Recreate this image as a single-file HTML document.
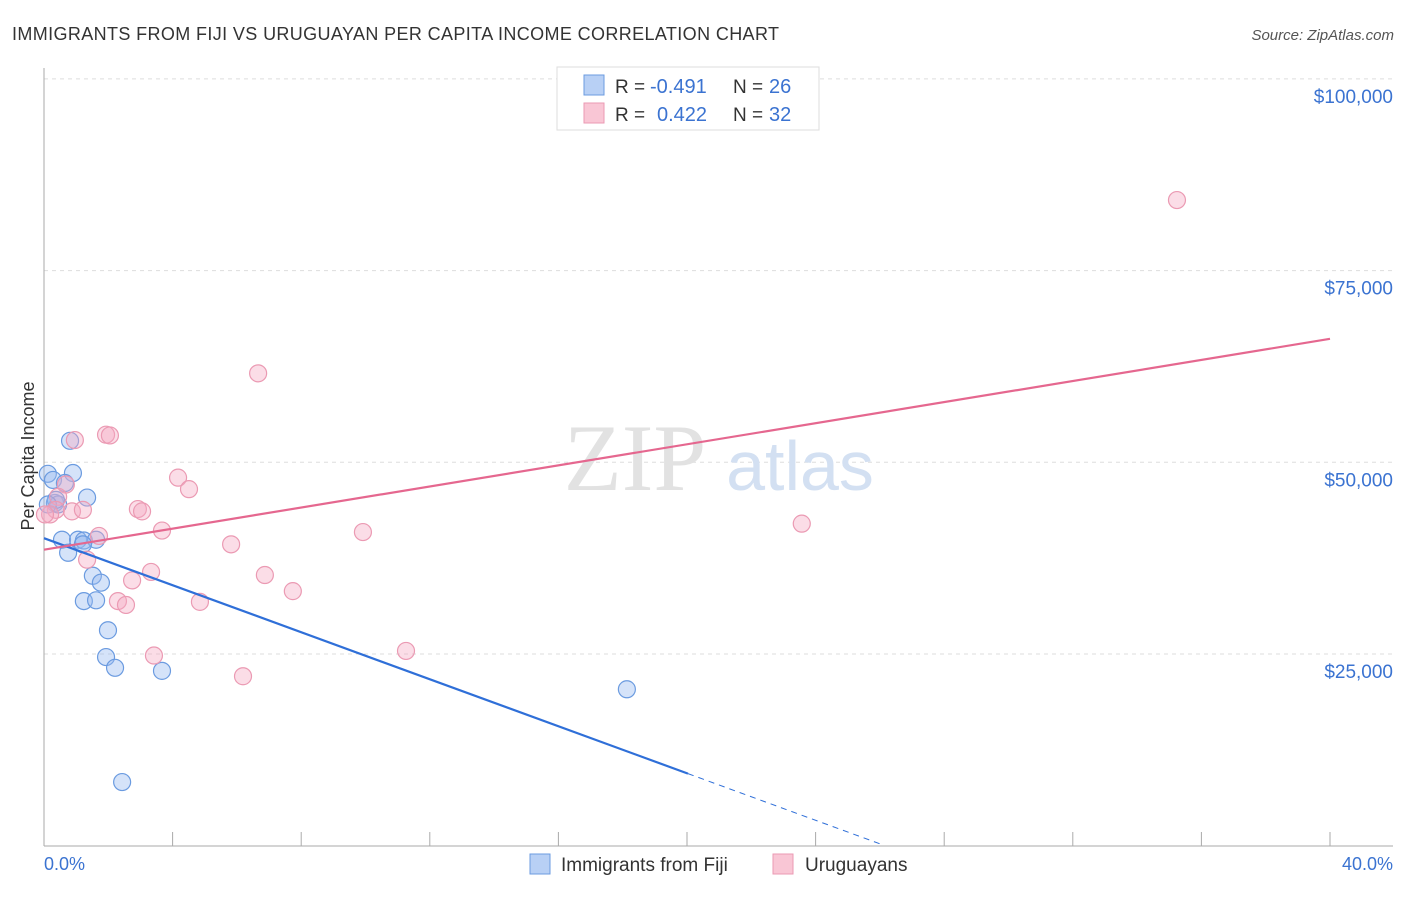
<!DOCTYPE html>
<html><head><meta charset="utf-8"><style>
body{margin:0;background:#fff;font-family:"Liberation Sans",sans-serif}
</style></head><body>
<svg width="1406" height="892" xmlns="http://www.w3.org/2000/svg" font-family="Liberation Sans, sans-serif">
<text x="12" y="40" font-size="18" fill="#333" textLength="767">IMMIGRANTS FROM FIJI VS URUGUAYAN PER CAPITA INCOME CORRELATION CHART</text>
<text x="1394" y="40" font-size="15" fill="#555" text-anchor="end" font-style="italic">Source: ZipAtlas.com</text>
<g id="grid"></g>
<text x="635" y="490" font-size="95" fill="#e2e2e2" text-anchor="middle" font-family="Liberation Serif, serif">ZIP</text>
<text x="800" y="490" font-size="70" fill="#d3e0f2" text-anchor="middle">atlas</text>
<line x1="44" y1="68" x2="44" y2="846" stroke="#aaa"/>
<line x1="44" y1="846" x2="1393" y2="846" stroke="#aaa"/>
<text transform="translate(34,456) rotate(-90)" font-size="18" fill="#333" text-anchor="middle">Per Capita Income</text>
<text x="44" y="870" font-size="18" fill="#3b73d1">0.0%</text>
<text x="1393" y="870" font-size="18" fill="#3b73d1" text-anchor="end">40.0%</text>
<g id="marks"></g>
<g>
<rect x="557" y="67" width="262" height="63" fill="#fff" stroke="#ddd"/>
<rect x="584" y="75" width="20" height="20" fill="#b8d0f5" stroke="#6b9be0"/>
<rect x="584" y="103" width="20" height="20" fill="#f9c6d5" stroke="#eb9ab3"/>
<text x="615" y="93" font-size="19" fill="#333">R =</text>
<text x="650" y="93" font-size="20" fill="#3b73d1">-0.491</text>
<text x="733" y="93" font-size="19" fill="#333">N =</text>
<text x="769" y="93" font-size="20" fill="#3b73d1">26</text>
<text x="615" y="121" font-size="19" fill="#333">R =</text>
<text x="657" y="121" font-size="20" fill="#3b73d1">0.422</text>
<text x="733" y="121" font-size="19" fill="#333">N =</text>
<text x="769" y="121" font-size="20" fill="#3b73d1">32</text>
</g>
<g>
<rect x="530" y="854" width="20" height="20" fill="#b8d0f5" stroke="#6b9be0"/>
<text x="561" y="871" font-size="19" fill="#333">Immigrants from Fiji</text>
<rect x="773" y="854" width="20" height="20" fill="#f9c6d5" stroke="#eb9ab3"/>
<text x="805" y="871" font-size="19" fill="#333">Uruguayans</text>
</g>
</svg>
<script>
const yTicks=[25000,50000,75000,100000];
const yTickLabels=["$25,000","$50,000","$75,000","$100,000"];
const xTicks=[0,4,8,12,16,20,24,28,32,36,40];
const fijiX=[0.81,0.12,0.90,0.28,0.65,1.34,0.34,0.44,0.56,0.75,1.06,1.24,1.62,1.21,1.52,1.77,1.24,1.62,1.99,1.93,2.21,3.67,18.13,2.43,0.37,0.12];
const fijiY=[52.8,48.5,48.6,47.7,47.3,45.4,44.7,44.5,39.9,38.2,39.9,39.8,39.9,39.3,35.2,34.3,31.9,32.0,28.1,24.6,23.2,22.8,20.4,8.3,45.1,44.5];
const uruX=[0.96,1.93,2.05,0.68,0.44,0.37,0.19,0.87,1.21,4.17,4.51,2.92,3.05,3.67,1.71,1.34,5.82,3.33,2.74,6.87,2.30,2.55,4.85,7.74,3.42,6.19,6.66,9.92,11.26,23.57,35.24,0.03];
const uruY=[52.9,53.6,53.5,47.1,45.5,43.8,43.2,43.6,43.8,48.0,46.5,43.9,43.6,41.1,40.4,37.3,39.3,35.7,34.6,35.3,31.9,31.4,31.8,33.2,24.8,22.1,61.6,40.9,25.4,42.0,84.2,43.2];
const fijiTrend=[40.1,9.4];
const uruTrend=[38.6,66.1];
const NS="http://www.w3.org/2000/svg";
const sx=v=>44+v/40*1286;
const sy=v=>845.7-v/25000*191.7;
const syk=v=>sy(v*1000);
function mk(t,a,p){const e=document.createElementNS(NS,t);for(const k in a)e.setAttribute(k,a[k]);p.appendChild(e);return e;}
const grid=document.getElementById('grid'),marks=document.getElementById('marks');
yTicks.forEach((v,i)=>{
 const l=mk('line',{x1:44,x2:1393,y1:sy(v),y2:sy(v),stroke:'#ddd','stroke-dasharray':'4,4'},grid);
 
 
 const t=mk('text',{x:1393,y:sy(v)+24,'font-size':19,fill:'#3b73d1','text-anchor':'end'},grid);
 t.textContent=yTickLabels[i];
 
 
});
xTicks.forEach(v=>{
 const l=mk('line',{x1:sx(v),x2:sx(v),y1:832,y2:846,stroke:'#aaa'},grid);
 
 
});
fijiX.forEach((x,i)=>{
 const c=mk('circle',{cx:sx(x),cy:syk(fijiY[i]),r:8.5,fill:'rgba(150,185,240,0.4)',stroke:'#6b9be0','stroke-width':1.2},marks);
 
 
});
uruX.forEach((x,i)=>{
 const c=mk('circle',{cx:sx(x),cy:syk(uruY[i]),r:8.5,fill:'rgba(245,170,195,0.4)',stroke:'#eb9ab3','stroke-width':1.2},marks);
 
 
});
const slope=(fijiTrend[1]-fijiTrend[0])/20.03;
let l=mk('line',{x1:sx(0),y1:syk(fijiTrend[0]),x2:sx(20.03),y2:syk(fijiTrend[1]),stroke:'#2f6fd8','stroke-width':2.2},marks);


const xe=26.0;
l=mk('line',{x1:sx(20.03),y1:syk(fijiTrend[1]),x2:sx(xe),y2:syk(fijiTrend[0]+slope*xe),stroke:'#2f6fd8','stroke-width':1,'stroke-dasharray':'6,5'},marks);


l=mk('line',{x1:sx(0),y1:syk(uruTrend[0]),x2:sx(40),y2:syk(uruTrend[1]),stroke:'#e5678f','stroke-width':2.2},marks);


</script>
</body></html>
